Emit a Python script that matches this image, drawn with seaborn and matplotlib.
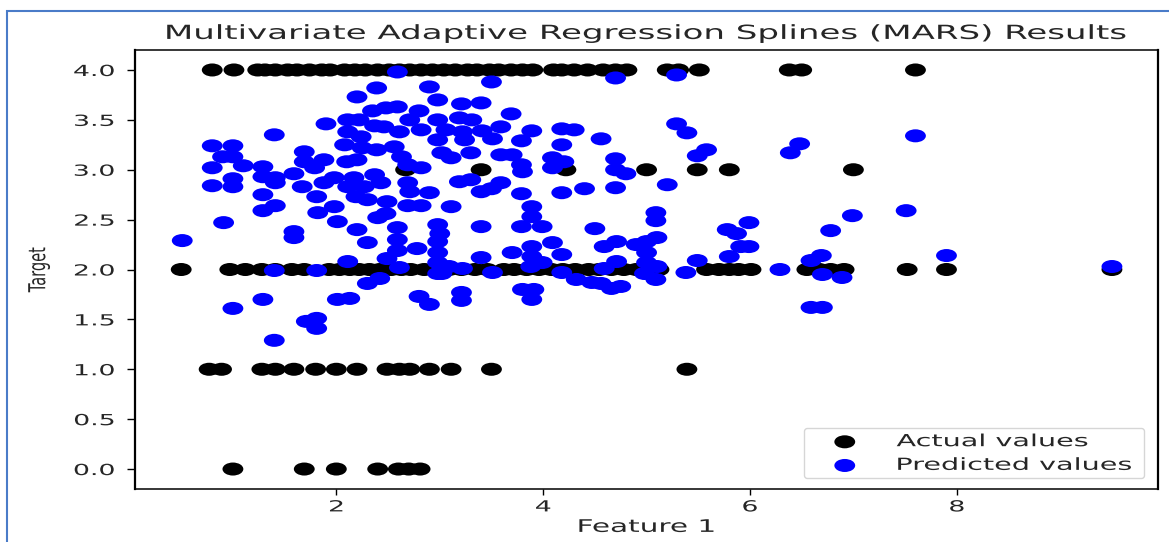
import numpy as np
import matplotlib
matplotlib.use("Agg")
import matplotlib.pyplot as plt
import seaborn as sns
from matplotlib.path import Path
from matplotlib.markers import MarkerStyle
from matplotlib.patches import Rectangle
from matplotlib.patheffects import AbstractPathEffect
from matplotlib.transforms import Affine2D

# ---- actual target values, grouped by class level (Feature 1 positions) ----
feat_at_4 = [0.80, 1.01, 1.24, 1.31, 1.41, 1.53, 1.62, 1.74, 1.86, 1.94, 2.08, 2.18,
             2.28, 2.40, 2.51, 2.61, 2.71, 2.82, 2.93, 3.04, 3.15, 3.27, 3.36, 3.48,
             3.57, 3.69, 3.80, 3.90, 4.10, 4.18, 4.30, 4.43, 4.58, 4.70, 4.81, 5.20,
             5.31, 5.51, 6.38, 6.50, 7.60]
feat_at_3 = [2.67, 3.40, 4.22, 5.00, 5.49, 5.80, 7.00]
feat_at_2 = [0.50, 0.97, 1.12, 1.28, 1.41, 1.57, 1.69, 1.93, 2.03, 2.13, 2.22, 2.32,
             2.42, 2.53, 2.63, 2.72, 2.85, 3.00, 3.09, 3.21, 3.34, 3.46, 3.62, 3.72,
             3.84, 3.96, 4.08, 4.19, 4.31, 4.44, 4.54, 4.66, 4.78, 4.90, 5.02, 5.12,
             5.58, 5.70, 5.80, 5.89, 6.01, 6.55, 6.67, 6.78, 6.91, 7.52, 7.90, 9.50]
feat_at_1 = [0.77, 0.89, 1.28, 1.41, 1.59, 1.80, 2.00, 2.20, 2.49, 2.61, 2.71, 2.90,
             3.11, 3.50, 5.39]
feat_at_0 = [1.00, 1.69, 2.00, 2.40, 2.60, 2.70, 2.81]
target_levels = [4.0, 3.0, 2.0, 1.0, 0.0]

# ---- MARS predictions ----
pred_feature = [
    1.40, 0.80, 1.00, 0.90, 1.00, 1.10, 0.80, 1.29, 1.00, 1.29, 1.41, 0.80, 1.00, 1.41,
    1.29, 1.41, 1.29, 0.91, 0.51, 1.40,
    2.59, 2.39, 2.20, 2.90, 2.48, 2.59, 2.98, 1.90, 2.11, 2.22, 2.71, 2.37, 2.46, 2.11,
    2.24, 2.61, 2.82, 2.98, 2.98, 2.08, 2.25, 2.39, 2.56, 1.69, 1.69, 1.88, 2.10, 2.20,
    2.63, 2.69, 1.59, 1.79, 1.98, 2.17, 2.37, 2.82, 1.67, 1.88, 2.11, 2.27, 2.43, 2.69,
    1.81, 2.19, 2.30, 2.49, 2.71, 2.90, 2.69, 2.82, 1.82, 1.98, 2.01, 2.40, 2.48, 1.59,
    1.59, 2.20, 2.59, 2.98, 2.30, 2.59, 2.59, 2.78, 2.98, 2.98, 2.11, 2.49, 1.81, 2.98,
    2.35, 2.80, 3.00,
    3.50, 3.21, 3.40, 3.69, 3.19, 3.31, 3.59, 3.89, 4.18, 4.30, 4.56, 3.06, 3.22, 3.41,
    3.24, 3.51, 3.79, 4.18, 3.02, 3.11, 3.30, 3.59, 3.70, 3.79, 3.80, 4.09, 4.20, 4.09,
    3.19, 3.30, 3.40, 3.50, 3.59, 3.79, 4.18, 4.40, 3.11, 3.89, 3.89, 3.40, 3.79, 3.99,
    4.50, 3.70, 3.89, 4.09, 3.40, 3.89, 4.18, 3.09, 3.22, 3.88, 3.99, 3.51, 4.18,
    4.70, 5.29, 5.29, 5.39, 5.58, 5.49, 4.70, 4.70, 4.80, 5.20, 4.70, 5.09, 5.09, 5.78,
    5.99, 5.87, 4.59, 4.71, 4.90, 5.00, 5.10, 5.00, 5.91, 5.99, 5.80, 4.71, 4.59, 5.00,
    5.10, 5.49, 5.38, 4.98,
    6.39, 6.48, 7.60, 6.99, 7.51, 6.78, 7.90, 9.50, 6.69, 6.59, 6.29,
    1.29, 1.00, 1.40, 1.71, 1.81, 1.81, 2.01, 2.13, 2.30, 2.42, 2.61, 2.80, 2.90, 2.98,
    3.21, 3.21, 3.80, 3.91, 3.89, 4.32, 4.47, 3.02, 4.56, 4.66, 4.75, 5.09, 6.59, 6.70,
    6.89, 6.70,
]
pred_target = [
    3.35, 3.24, 3.24, 3.13, 3.13, 3.04, 3.02, 3.03, 2.91, 2.93, 2.92, 2.84, 2.83, 2.87,
    2.75, 2.64, 2.59, 2.47, 2.29, 1.99,
    3.98, 3.82, 3.73, 3.83, 3.62, 3.63, 3.70, 3.46, 3.50, 3.50, 3.50, 3.44, 3.43, 3.38,
    3.33, 3.38, 3.40, 3.50, 3.30, 3.25, 3.22, 3.20, 3.23, 3.18, 3.08, 3.10, 3.08, 3.10,
    3.13, 3.05, 2.96, 3.02, 2.92, 2.92, 2.95, 3.02, 2.83, 2.87, 2.83, 2.83, 2.87, 2.87,
    2.73, 2.73, 2.70, 2.68, 2.78, 2.77, 2.64, 2.64, 2.57, 2.63, 2.48, 2.52, 2.56, 2.38,
    2.32, 2.40, 2.42, 2.45, 2.27, 2.30, 2.19, 2.21, 2.28, 2.17, 2.08, 2.11, 1.99, 2.07,
    3.59, 3.59, 2.36,
    3.88, 3.66, 3.67, 3.56, 3.52, 3.50, 3.43, 3.39, 3.41, 3.40, 3.31, 3.40, 3.38, 3.39,
    3.30, 3.31, 3.29, 3.25, 3.17, 3.12, 3.17, 3.15, 3.15, 3.05, 2.98, 3.12, 3.08, 3.02,
    2.88, 2.90, 2.78, 2.81, 2.87, 2.76, 2.77, 2.81, 2.63, 2.63, 2.53, 2.43, 2.43, 2.43,
    2.41, 2.17, 2.23, 2.27, 2.12, 2.13, 2.15, 2.03, 2.01, 2.03, 2.07, 1.97, 1.97,
    3.92, 3.95, 3.46, 3.37, 3.20, 3.14, 3.11, 3.00, 2.96, 2.85, 2.82, 2.57, 2.49, 2.40,
    2.47, 2.36, 2.23, 2.28, 2.25, 2.28, 2.32, 2.17, 2.23, 2.23, 2.13, 2.08, 2.01, 2.07,
    2.03, 2.09, 1.97, 1.96,
    3.17, 3.26, 3.34, 2.54, 2.59, 2.39, 2.14, 2.03, 2.14, 2.09, 2.00,
    1.70, 1.61, 1.29, 1.48, 1.51, 1.41, 1.70, 1.71, 1.86, 1.91, 2.02, 1.73, 1.65, 1.96,
    1.77, 1.69, 1.80, 1.80, 1.70, 1.90, 1.87, 1.96, 1.86, 1.81, 1.83, 1.90, 1.62, 1.62,
    1.92, 1.95,
]

x_ticks = [2, 4, 6, 8]
y_ticks = [0.0, 0.5, 1.0, 1.5, 2.0, 2.5, 3.0, 3.5, 4.0]

actual_feature = np.concatenate([feat_at_4, feat_at_3, feat_at_2, feat_at_1, feat_at_0])
actual_target = np.concatenate([
    np.full(len(g), lvl)
    for g, lvl in zip([feat_at_4, feat_at_3, feat_at_2, feat_at_1, feat_at_0], target_levels)
])


class Widen(AbstractPathEffect):
    """Draw text outlines stretched horizontally on screen around one edge."""

    def __init__(self, factor, anchor="center"):
        super().__init__()
        self.factor = factor
        self.anchor = anchor

    def draw_path(self, renderer, gc, tpath, affine, rgbFace=None):
        verts = tpath.vertices
        if tpath.codes is not None:
            keep = (tpath.codes != Path.CLOSEPOLY) & (tpath.codes != Path.STOP)
            verts = verts[keep]
        if len(verts):
            xs = affine.transform(verts)[:, 0]
            ref = {"left": xs.min(), "right": xs.max(),
                   "center": 0.5 * (xs.min() + xs.max())}[self.anchor]
            affine = affine + Affine2D().translate(-ref, 0).scale(self.factor, 1).translate(ref, 0)
        renderer.draw_path(gc, tpath, affine, rgbFace)


sns.set_style("ticks")
plt.rcParams.update({
    "font.family": ["DejaVu Sans"],
    "axes.edgecolor": "black",
    "text.color": "0.15",
    "xtick.color": "black",
    "ytick.color": "black",
    "xtick.labelcolor": "0.15",
    "ytick.labelcolor": "0.15",
})

# wide, flat dots
oval = MarkerStyle(Path.unit_circle().transformed(Affine2D().scale(1.6, 1.0)))

fig = plt.figure(figsize=(11.69, 5.42), dpi=100)
ax = fig.add_axes([0.1152, 0.0978, 0.9910 - 0.1152, 0.9077 - 0.0978])

sns.scatterplot(x=actual_feature, y=actual_target, color="black", marker=oval,
                s=225, linewidth=0, edgecolor="none", label="Actual values", ax=ax)
sns.scatterplot(x=pred_feature, y=pred_target, color="#0000ff", marker=oval,
                s=225, linewidth=0, edgecolor="none", label="Predicted values", ax=ax)

ax.set_xticks(x_ticks)
ax.set_yticks(y_ticks)
ax.tick_params(axis="x", length=4, width=1.0, labelsize=11, pad=3.5)
ax.tick_params(axis="y", length=6, width=1.0, labelsize=11, pad=8.5)
for side in ["top", "bottom"]:
    ax.spines[side].set_linewidth(1.1)
for side in ["left", "right"]:
    ax.spines[side].set_linewidth(1.6)

title = ax.set_title("Multivariate Adaptive Regression Splines (MARS) Results",
                     fontsize=14, pad=8)
title.set_path_effects([Widen(1.75)])
xl = ax.set_xlabel("Feature 1", fontsize=12.5, labelpad=2.5)
xl.set_path_effects([Widen(1.7)])
yl = ax.set_ylabel("Target", fontsize=10.5)
ax.yaxis.set_label_coords(-0.0827, 0.5)
yl.set_path_effects([Widen(1.6, "right")])

for lbl in ax.get_xticklabels():
    lbl.set_path_effects([Widen(1.75)])
for lbl in ax.get_yticklabels():
    lbl.set_path_effects([Widen(1.75, "right")])

leg = ax.legend(loc="lower left", bbox_to_anchor=(0.6537, 0.025, 0.3321, 0.2),
                mode="expand", borderaxespad=0, fontsize=12, handlelength=4.4,
                handletextpad=0.91, borderpad=0.25, labelspacing=0.34,
                scatterpoints=1, frameon=True)
leg.get_frame().set_edgecolor("0.8")
for t in leg.get_texts():
    t.set_path_effects([Widen(1.72, "left")])

# picture frame line along the top and left edges
fig.add_artist(Rectangle((7 / 1169, -0.05), 1.2, 1 - 10.5 / 542 + 0.05,
                         transform=fig.transFigure, fill=False,
                         edgecolor="#4a7bc8", linewidth=1.5))

fig.savefig("out.png", dpi=100)
